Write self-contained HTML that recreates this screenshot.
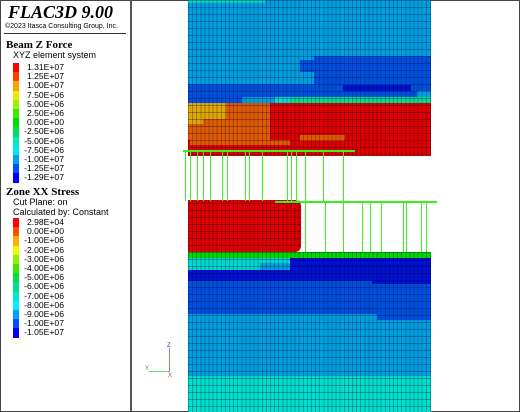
<!DOCTYPE html>
<html><head><meta charset="utf-8"><style>
body{margin:0;width:520px;height:412px;overflow:hidden;background:#fff;font-family:"Liberation Sans",sans-serif;}
.a{position:absolute;}
.t{position:absolute;font-size:9px;line-height:9px;color:#000;white-space:nowrap}
.sw{position:absolute;width:6px;height:9.4px}
.lab{position:absolute;font-size:8.6px;line-height:9px;width:50px;text-align:right;white-space:nowrap}
.grid{position:absolute;left:188px;top:0;width:243px;height:412px;pointer-events:none;
background-image:repeating-linear-gradient(90deg,rgba(0,0,40,.28) 0 1px,transparent 1px 4.1px),repeating-linear-gradient(180deg,rgba(0,0,40,.3) 0 1px,transparent 1px 7px);}
.bv{position:absolute;width:1.3px;background:#3cf01e}
</style></head><body>
<div class="a" style="left:0;top:0;width:518px;height:410px;border:1px solid #444"></div>
<div class="a" style="left:130px;top:0;width:2px;height:412px;background:#555"></div>
<div class="t" style="left:8px;top:2px;font:italic bold 18px 'Liberation Serif',serif;line-height:20px">FLAC3D 9.00</div>
<div class="t" style="left:5px;top:22px;font-size:7px">©2023 Itasca Consulting Group, Inc.</div>
<div class="a" style="left:4px;top:33px;width:122px;height:1px;background:#333"></div>
<div class="t" style="left:6px;top:39px;font:bold 11px 'Liberation Serif',serif">Beam Z Force</div>
<div class="t" style="left:13px;top:51px">XYZ element system</div>
<div id="beamLeg"></div>
<div class="t" style="left:6px;top:186px;font:bold 11px 'Liberation Serif',serif">Zone XX Stress</div>
<div class="t" style="left:13px;top:198px">Cut Plane: on</div>
<div class="t" style="left:13px;top:208px">Calculated by: Constant</div>
<div id="zoneLeg"></div>

<div id="plot">
<div class="a" style="left:188px;top:0;width:243px;height:84px;background:#00a0e0"></div>
<div class="a" style="left:188px;top:0;width:77px;height:3px;background:#00d8c8"></div>
<div class="a" style="left:300px;top:60px;width:14px;height:12px;background:#0050e0"></div>
<div class="a" style="left:314px;top:56px;width:117px;height:28px;background:#0050e0"></div>
<div class="a" style="left:188px;top:84px;width:243px;height:19px;background:#0050e0"></div>
<div class="a" style="left:343px;top:85px;width:68px;height:6px;background:#0010d0"></div>
<div class="a" style="left:417px;top:91px;width:14px;height:6px;background:#00a0e0"></div>
<div class="a" style="left:242px;top:97px;width:33px;height:6px;background:#00a0e0"></div>
<div class="a" style="left:275px;top:97px;width:15px;height:6px;background:#00e0d0"></div>
<div class="a" style="left:290px;top:97px;width:141px;height:6px;background:#00e090"></div>
<div class="a" style="left:188px;top:103px;width:243px;height:53px;background:#e00000"></div>
<div class="a" style="left:188px;top:103px;width:82px;height:37px;background:#e05a00"></div>
<div class="a" style="left:188px;top:103px;width:38px;height:16px;background:#e0a800"></div>
<div class="a" style="left:188px;top:119px;width:15px;height:5px;background:#e0a800"></div>
<div class="a" style="left:190px;top:140px;width:100px;height:5px;background:#e05a00"></div>
<div class="a" style="left:300px;top:135px;width:45px;height:6px;background:#e05a00"></div>
<div class="a" style="left:188px;top:156px;width:243px;height:44px;background:#fff"></div>
<div class="a" style="left:188px;top:200px;width:113px;height:52px;background:#e00000;border-radius:0 6px 6px 0"></div>
<div class="a" style="left:188px;top:252px;width:243px;height:6px;background:#00d800"></div>
<div class="a" style="left:188px;top:258px;width:243px;height:12px;background:#0010d0"></div>
<div class="a" style="left:188px;top:258px;width:102px;height:5px;background:#00d8d0"></div>
<div class="a" style="left:188px;top:263px;width:72px;height:7px;background:#00d8d0"></div>
<div class="a" style="left:260px;top:263px;width:30px;height:7px;background:#00a0e0"></div>
<div class="a" style="left:188px;top:270px;width:243px;height:11px;background:#0010d0"></div>
<div class="a" style="left:188px;top:281px;width:243px;height:33px;background:#0050e0"></div>
<div class="a" style="left:372px;top:281px;width:59px;height:3px;background:#0010d0"></div>
<div class="a" style="left:377px;top:314px;width:54px;height:6px;background:#0050e0"></div>
<div class="a" style="left:188px;top:314px;width:243px;height:62px;background:#00a0e0"></div>
<div class="a" style="left:377px;top:314px;width:54px;height:6px;background:#0050e0"></div>
<div class="a" style="left:188px;top:376px;width:243px;height:36px;background:#00e0cc"></div>
<div class="grid"></div>
<div class="a" style="left:188px;top:156px;width:243px;height:44px;background:#fff"></div>
<div class="a" style="left:301px;top:200px;width:130px;height:52px;background:#fff"></div>
</div>
<div id="beams">
<div class="a" style="left:183px;top:150px;width:172px;height:2px;background:#3cf01e"></div>
<div class="a" style="left:275px;top:201px;width:162px;height:2px;background:#3cf01e"></div>
</div>
<div>
<div class="a" style="left:169px;top:348px;width:1px;height:24px;background:#8080ff"></div>
<div class="a" style="left:149px;top:371px;width:20px;height:1px;background:#60e060"></div>
<div class="t" style="left:167px;top:342px;font-size:6px;color:#3030c0">Z</div>
<div class="t" style="left:145px;top:365px;font-size:6px;color:#20a020">Y</div>
<div class="t" style="left:168px;top:372px;font-size:6px;color:#e03030">X</div>
</div>
<script>
const beamLabels=["1.31E+07","1.25E+07","1.00E+07","7.50E+06","5.00E+06","2.50E+06","0.00E+00","-2.50E+06","-5.00E+06","-7.50E+06","-1.00E+07","-1.25E+07","-1.29E+07"];
const beamColors=["#ff0000","#ff4000","#ffa000","#e8e800","#a0f000","#40e800","#00e000","#00e060","#00e8c0","#00e8f0","#00a0ff","#0050ff","#0000ff"];
const zoneLabels=["2.98E+04","0.00E+00","-1.00E+06","-2.00E+06","-3.00E+06","-4.00E+06","-5.00E+06","-6.00E+06","-7.00E+06","-8.00E+06","-9.00E+06","-1.00E+07","-1.05E+07"];
const zoneColors=["#ff0000","#ff5000","#ffb000","#e8ff00","#90f000","#40e800","#00e040","#00e090","#00e8d0","#00f0ff","#00a0ff","#0050ff","#0000ff"];
const beamX=[185,190,197,203,210,222,227,245,249,262,287,291,296,305,323,343];
const beamX2=[305,325,343,362,370,381,403,406,421,426];
function legend(id,labels,colors,y0,name){
  const c=document.getElementById(id);
  labels.forEach((l,i)=>{
    const s=document.createElement('div');s.className='sw';
    
    
    s.style.left='13px';s.style.top=(y0+i*9.2)+'px';s.style.background=colors[i];c.appendChild(s);
    const t=document.createElement('div');t.className='lab';
    
    
    t.style.left='14px';t.style.top=(y0+i*9.2)+'px';t.textContent=l;c.appendChild(t);
  });
}
legend('beamLeg',beamLabels,beamColors,63,'beam-legend');
legend('zoneLeg',zoneLabels,zoneColors,218,'zone-legend');
const b=document.getElementById('beams');
beamX.forEach(x=>{const d=document.createElement('div');d.className='bv';


d.style.left=x+'px';d.style.top='152px';d.style.height='49px';b.appendChild(d);});
beamX2.forEach(x=>{const d=document.createElement('div');d.className='bv';


d.style.left=x+'px';d.style.top='202px';d.style.height='50px';b.appendChild(d);});
</script>
</body></html>
